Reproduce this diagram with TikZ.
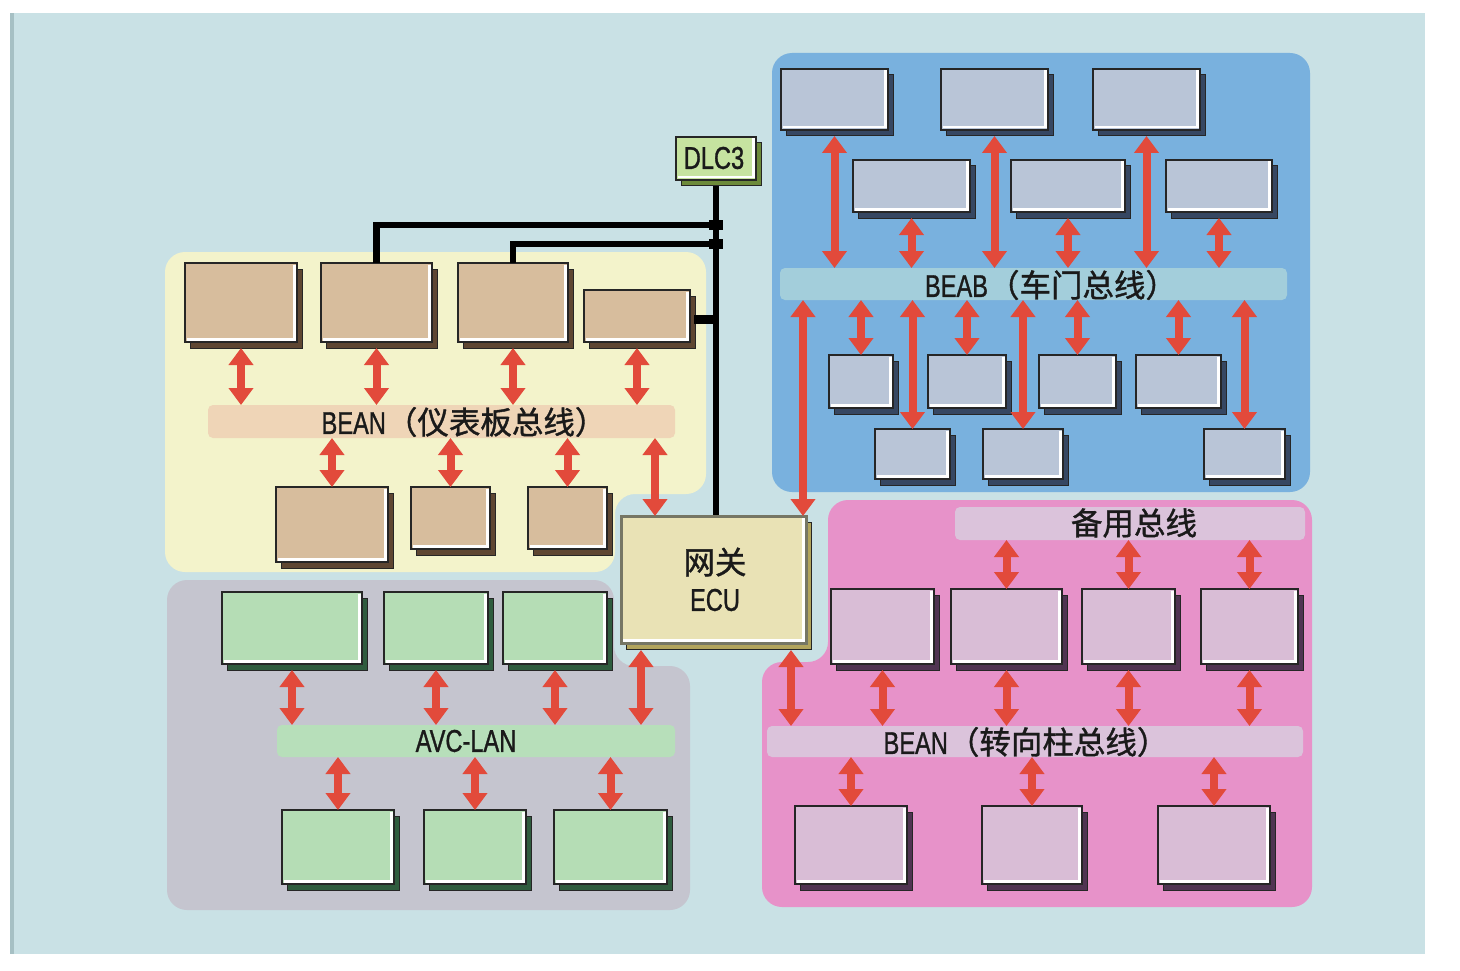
\documentclass[tikz,border=0pt]{standalone}
\usepackage{fontspec}
\newfontfamily\cjk[FakeBold=1.2]{Noto Sans CJK SC}
\newfontfamily\lat[FakeStretch=0.75,FakeBold=1]{Liberation Sans}
\usetikzlibrary{arrows.meta}
\definecolor{bgc}{HTML}{C9E1E5}
\definecolor{bgstrip}{HTML}{A6C0C4}
\definecolor{yreg}{HTML}{F3F3CB}
\definecolor{tanf}{HTML}{D7BD9D}
\definecolor{tans}{HTML}{5E4632}
\definecolor{tanbar}{HTML}{EFD5B7}
\definecolor{greg}{HTML}{C5C5CF}
\definecolor{grnf}{HTML}{B5DDB5}
\definecolor{grns}{HTML}{2F5C3E}
\definecolor{grnbar}{HTML}{B7DFBA}
\definecolor{breg}{HTML}{79B1DE}
\definecolor{bluf}{HTML}{B9C5D7}
\definecolor{blus}{HTML}{364762}
\definecolor{blubar}{HTML}{A3CEDB}
\definecolor{preg}{HTML}{E792C9}
\definecolor{pnkf}{HTML}{D9BDD6}
\definecolor{pnks}{HTML}{503452}
\definecolor{pnkbar}{HTML}{DBC3DB}
\definecolor{ecuf}{HTML}{E9E2B5}
\definecolor{ecus}{HTML}{B2A45C}
\definecolor{ecub}{HTML}{767664}
\definecolor{dlcf}{HTML}{C6E3A0}
\definecolor{dlcs}{HTML}{6C8A3A}
\definecolor{arrred}{HTML}{E24A3B}
\definecolor{txt}{HTML}{1A1A1A}
\tikzset{
  region/.style={rounded corners=20pt},
  ebox/.style 2 args={draw=black!85, line width=1.2pt, fill=#1, inner sep=0pt, outer sep=0pt,
    preaction={fill=#2, draw=black!85, line width=1pt, transform canvas={shift={(5pt,-6pt)}}},
    path picture={\draw[white,line width=2.2pt]
      ([xshift=1.5pt,yshift=2.6pt]path picture bounding box.south west) --
      ([xshift=-2.6pt,yshift=2.6pt]path picture bounding box.south east) --
      ([xshift=-2.6pt,yshift=-1.5pt]path picture bounding box.north east);}},
  tanbox/.style={ebox={tanf}{tans}},
  grnbox/.style={ebox={grnf}{grns}},
  blubox/.style={ebox={bluf}{blus}},
  pnkbox/.style={ebox={pnkf}{pnks}},
  ecubox/.style={ebox={ecuf}{ecus}, draw=ecub, line width=3pt},
  dlcbox/.style={ebox={dlcf}{dlcs}, line width=1.6pt},
  busbar/.style={fill=#1, rounded corners=5pt, inner sep=0pt, outer sep=0pt},
  rarr/.style={draw=arrred, line width=8pt, {Triangle[width=24pt,length=17pt]}-{Triangle[width=24pt,length=17pt]}},
  blk/.style={draw=black, line width=6.5pt},
  lbl/.style={text=txt, inner sep=0pt, font=\fontsize{31.5}{34}\selectfont},
}
\newcommand\ebx[6]{\node[#6, minimum width={#4-#2}, minimum height={#5-#3}] (#1) at ({(#2+#4)/2},{(#3+#5)/2}) {};}
\newcommand\bbar[6]{\node[busbar=#6, minimum width={#4-#2}, minimum height={#5-#3}] (#1) at ({(#2+#4)/2},{(#3+#5)/2}) {};}
\begin{document}
\begin{tikzpicture}[x=1pt,y=-1pt]
\useasboundingbox (0,0) rectangle (1460,971);
\fill[white] (0,0) rectangle (1460,971);
\fill[bgc] (10,13) rectangle (1425,954);
\fill[bgstrip] (10,13) rectangle (14,954);
% regions
\fill[yreg, region] (165,252) -- (706,252) -- (706,494) -- (615,494) -- (615,572) -- (165,572) -- cycle;
\fill[greg, region] (167,580) -- (614,580) -- (614,666) -- (690,666) -- (690,910) -- (167,910) -- cycle;
\fill[breg, region] (772,53) rectangle (1310,492);
\fill[preg, region] (828,500) -- (1312,500) -- (1312,907) -- (762,907) -- (762,662) -- (828,662) -- cycle;
% bus bars
\bbar{bip}{208}{405}{675}{438}{tanbar}
\bbar{bab}{780}{268}{1287}{300}{blubar}
\bbar{spb}{955}{507}{1305}{540}{pnkbar}
\bbar{bpk}{767}{726}{1303}{757}{pnkbar}
\bbar{avc}{277}{725}{675}{757}{grnbar}
% black DLC3 lines
\coordinate (j1) at (716,225);
\coordinate (j2) at (716,244);
\coordinate (j0) at (716,180);
\coordinate (j4) at (716,516);
\draw[blk] (j0) -- (j4);
% boxes: instrument panel
\ebx{t1}{185}{263}{297}{342}{tanbox}
\ebx{t2}{321}{263}{432}{342}{tanbox}
\ebx{t3}{458}{263}{568}{342}{tanbox}
\ebx{t4}{584}{290}{690}{342}{tanbox}
\ebx{b1}{276}{487}{388}{562}{tanbox}
\ebx{b2}{411}{487}{490}{549}{tanbox}
\ebx{b3}{528}{487}{607}{549}{tanbox}
\draw[blk, line join=miter] (t2.north) |- (j1);
\draw[blk, line join=miter] (t3.north) |- (j2);
\draw[blk, line width=9pt] ([xshift=4pt,yshift=-3pt]t4.east) -- ([yshift=-3pt]t4.east -| j1);
\fill (j1) +(-7,-5) rectangle +(7,5);
\fill (j2) +(-7,-5) rectangle +(7,5);
\ebx{dlc}{676}{137}{756}{180}{dlcbox}
% door bus boxes
\ebx{u1}{781}{69}{888}{130}{blubox}
\ebx{u2}{941}{69}{1048}{130}{blubox}
\ebx{u3}{1093}{69}{1200}{130}{blubox}
\ebx{v1}{853}{160}{970}{212}{blubox}
\ebx{v2}{1011}{160}{1125}{212}{blubox}
\ebx{v3}{1166}{160}{1272}{212}{blubox}
\ebx{w1}{829}{355}{893}{408}{blubox}
\ebx{w2}{928}{355}{1006}{408}{blubox}
\ebx{w3}{1039}{355}{1116}{408}{blubox}
\ebx{w4}{1136}{355}{1221}{408}{blubox}
\ebx{x1}{875}{429}{950}{479}{blubox}
\ebx{x2}{983}{429}{1063}{479}{blubox}
\ebx{x3}{1204}{429}{1285}{479}{blubox}
% steering column boxes
\ebx{p1}{831}{589}{934}{664}{pnkbox}
\ebx{p2}{951}{589}{1062}{664}{pnkbox}
\ebx{p3}{1082}{589}{1175}{664}{pnkbox}
\ebx{p4}{1201}{589}{1298}{664}{pnkbox}
\ebx{q1}{795}{806}{907}{884}{pnkbox}
\ebx{q2}{982}{806}{1082}{884}{pnkbox}
\ebx{q3}{1158}{806}{1270}{884}{pnkbox}
% AVC-LAN boxes
\ebx{g1}{222}{592}{362}{664}{grnbox}
\ebx{g2}{384}{592}{488}{664}{grnbox}
\ebx{g3}{503}{592}{607}{664}{grnbox}
\ebx{h1}{282}{810}{394}{884}{grnbox}
\ebx{h2}{424}{810}{526}{884}{grnbox}
\ebx{h3}{554}{810}{667}{884}{grnbox}
% gateway ECU
\ebx{ecu}{621}{516}{806}{643}{ecubox}
% labels
\node[lbl] (lbip) at (464,422) {{\lat BEAN}\cjk（仪表板总线）};
\node[lbl] (lbab) at (1051,285) {{\lat BEAB}\cjk（车门总线）};
\node[lbl] (lspb) at (1134,523) {\cjk 备用总线};
\node[lbl] (lbpk) at (1026,742) {{\lat BEAN}\cjk（转向柱总线）};
\node[lbl] (lavc) at (466,741) {\lat AVC-LAN};
\node[lbl] (ldlc) at (714,158) {\lat DLC3};
\node[lbl] (lgw) at (715,562) {\cjk 网关};
\node[lbl] (lecu) at (715,600) {\lat ECU};
% arrows instrument panel
\foreach \b in {t1,t2,t3,t4} \draw[rarr] ([yshift=-6pt]\b.south) -- (\b.south |- bip.north);
\foreach \b in {b1,b2,b3} \draw[rarr] (bip.south -| \b.north) -- (\b.north);
\coordinate (ea) at (655,0);
\draw[rarr] (ea |- bip.south) -- (ea |- ecu.north);
% arrows door bus
\foreach \b in {u1,u2,u3,v1,v2,v3} \draw[rarr] ([yshift=-6pt]\b.south) -- (\b.south |- bab.north);
\foreach \b in {w1,w2,w3,w4,x1,x2,x3} \draw[rarr] (bab.south -| \b.north) -- (\b.north);
\coordinate (ec) at (803,0);
\draw[rarr] (ec |- bab.south) -- (ec |- ecu.north);
% arrows steering column
\foreach \b in {p2,p3,p4} \draw[rarr] (spb.south -| \b.north) -- (\b.north);
\foreach \b in {p1,p2,p3,p4} \draw[rarr] ([yshift=-6pt]\b.south) -- (\b.south |- bpk.north);
\foreach \b in {q1,q2,q3} \draw[rarr] (bpk.south -| \b.north) -- (\b.north);
\coordinate (ed) at (791,650);
\draw[rarr] (ed) -- (ed |- bpk.north);
% arrows AVC-LAN
\foreach \b in {g1,g2,g3} \draw[rarr] ([yshift=-6pt]\b.south) -- (\b.south |- avc.north);
\foreach \b in {h1,h2,h3} \draw[rarr] (avc.south -| \b.north) -- (\b.north);
\coordinate (eb) at (641,650);
\draw[rarr] (eb) -- (eb |- avc.north);
\end{tikzpicture}
\end{document}
